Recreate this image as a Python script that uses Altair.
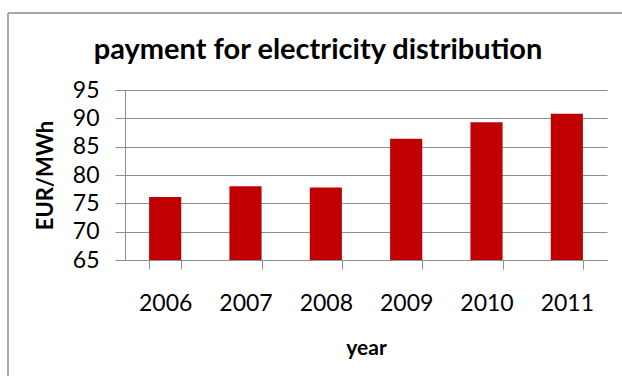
import altair as alt
import pandas as pd

years = ["2006", "2007", "2008", "2009", "2010", "2011"]
values = [76.1, 78.0, 77.8, 86.4, 89.3, 90.8]

df = pd.DataFrame({"year": years, "value": values})

FONT = "Lato"
GRID = "#8E8E8E"

bars = alt.Chart(df).mark_bar(color="#C00000", clip=True).encode(
    x=alt.X("year:N", sort=years,
            scale=alt.Scale(paddingInner=0.6, paddingOuter=0.3),
            axis=alt.Axis(title="year", labelAngle=0, labelFontSize=23, labelPadding=34,
                          labelBaseline="middle",
                          labelColor="#000000", labelFont=FONT,
                          tickBand="extent", tickSize=9, tickColor=GRID,
                          domainColor=GRID, titleFont=FONT, titleFontSize=21,
                          titleFontWeight="bold", titleColor="#000000",
                          titleX=241, titleY=88, titleBaseline="middle",
                          titleAnchor="start", titleAlign="center")),
    y=alt.Y("value:Q", scale=alt.Scale(domain=[65, 95], nice=False, zero=False),
            axis=alt.Axis(title="EUR/MWh", values=[65, 70, 75, 80, 85, 90, 95],
                          labelFontSize=23, labelFont=FONT, labelColor="#000000",
                          labelPadding=16, tickSize=10, tickColor=GRID,
                          domainColor=GRID, gridColor=GRID,
                          titleFont=FONT, titleFontSize=22, titleFontWeight="bold",
                          titleColor="#000000", titleX=-80, titleY=85,
                          titleAngle=-90, titleBaseline="middle", titleAlign="center",
                          titleAnchor="start")),
)

border = alt.Chart(df).mark_rule(color="#A6A6A6", strokeWidth=1.5).encode(
    x=alt.value(-117), x2=alt.value(600), y=alt.value(-77)
)
border_left = alt.Chart(df).mark_rule(color="#A6A6A6", strokeWidth=1.5).encode(
    x=alt.value(-117), y=alt.value(-77), y2=alt.value(300)
)

chart = alt.layer(border, border_left, bars).properties(
    width=482, height=170,
    title=alt.TitleParams("payment for electricity distribution", font=FONT,
                          fontSize=29, fontWeight="bold", color="#000000",
                          anchor="middle", baseline="alphabetic", dx=-48, offset=-76),
    padding={"left": 125, "top": 90, "right": 15, "bottom": 116},
    autosize=alt.AutoSizeParams(type="none"),
).configure_view(stroke=None).configure_axis(grid=True).configure_axisX(grid=False)

chart.save("out.html", embed_options={"renderer": "svg", "actions": False})
